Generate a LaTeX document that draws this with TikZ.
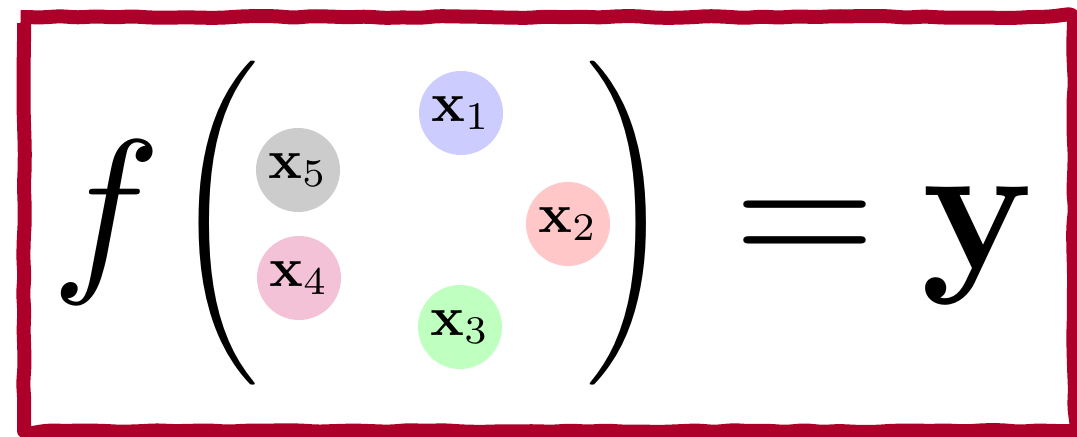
\documentclass[tikz,border=0pt]{standalone}
\usepackage{amsmath,amssymb}
\usepackage{tikz}
\usetikzlibrary{decorations.pathmorphing,positioning}
\definecolor{framered}{RGB}{172,0,42}
\definecolor{pinkish}{RGB}{244,194,214}
\tikzstyle{ball} = [circle, inner sep=0pt, minimum size=15pt, scale=2.8]
\tikzstyle{bigsym} = [anchor=base, inner sep=0pt, scale=9.2]
\tikzstyle{paren} = [inner sep=0pt, scale=5.4]

\begin{document}
\begin{tikzpicture}[x=0.5pt,y=-0.5pt]
    % Canvas
    \useasboundingbox (0,0) rectangle (1077,437);
    \fill[white] (0,0) rectangle (1077,437);
    % Hand drawn frame
    \pgfmathsetseed{11}
    \draw[framered, line width=7pt, line join=round, rounded corners=3pt,
        decorate, decoration={random steps, segment length=9pt, amplitude=0.5pt}]
        (24,17) rectangle (1074,431);
    % f ( ... ) = y
    \node[bigsym] (f) at (106,269) {$f$};
    \node[paren] (lpar) at (216,223.5) {$\Bigg($};
    \node[paren] (rpar) at (629,223.5) {$\Bigg)$};
    \node[bigsym] (eq) at (805,269) {$=$};
    \node[bigsym] (y) at (979,269) {$\mathbf{y}$};
    % Inputs
    \node[ball, fill=blue!20] (x1) at (461,113) {$\mathbf{x}_1$};
    \node[ball, fill=red!22] (x2) at (568,224) {$\mathbf{x}_2$};
    \node[ball, fill=green!25] (x3) at (460,327) {$\mathbf{x}_3$};
    \node[ball, fill=pinkish] (x4) at (299,278) {$\mathbf{x}_4$};
    \node[ball, fill=black!20] (x5) at (298,170) {$\mathbf{x}_5$};
\end{tikzpicture}
\end{document}
